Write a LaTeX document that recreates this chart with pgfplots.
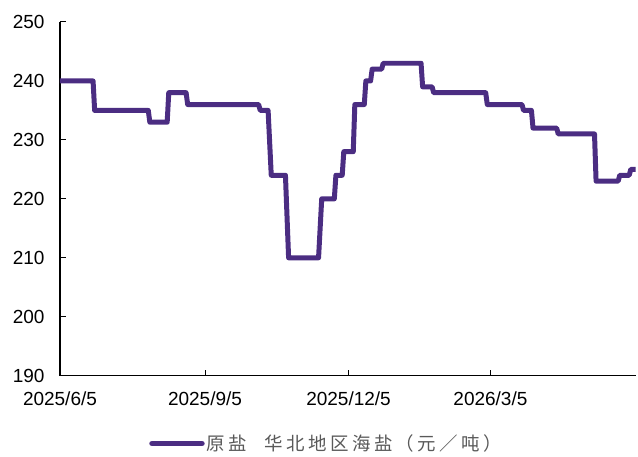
\documentclass[border=0pt]{standalone}
\usepackage{pgfplots}
\pgfplotsset{compat=1.18}
\usepackage{fontspec}
\setmainfont{Liberation Sans}
\newfontfamily\cjk[LetterSpace=18]{Noto Sans CJK SC}
\definecolor{linepurple}{RGB}{75,45,130}
\definecolor{legendgray}{RGB}{89,89,89}
\begin{document}
\begin{tikzpicture}
\path (0,0) rectangle (638bp,457bp);
\begin{axis}[
  at={(60bp,81bp)}, anchor=south west,
  scale only axis, width=576bp, height=354bp,
  xmin=0, xmax=365, ymin=190, ymax=250,
  axis lines=left,
  axis line style={line width=1.3bp, black, -},
  xtick={0,92,183,273},
  xticklabels={2025/6/5,2025/9/5,2025/12/5,2026/3/5},
  ytick={190,200,...,250},
  tick align=inside,
  major tick length=6bp,
  tick style={line width=1bp, black},
  ticklabel style={font=\fontsize{19bp}{21bp}\selectfont, text=black},
  /pgf/number format/assume math mode=true,
  yticklabel style={xshift=-12bp},
  xticklabel style={yshift=-13bp},
  clip=false,
  legend style={at={(0.463,-0.192)}, anchor=center, draw=none, fill=none,
    font=\cjk\fontsize{18.5bp}{20bp}\selectfont, text=legendgray,
    /tikz/every even column/.append style={column sep=0bp}},
  legend cell align=left,
  legend image code/.code={\draw[#1, line width=5.5bp, line cap=round] (0bp,0bp) -- (50bp,0bp);},
]
\addplot[color=linepurple, line width=5bp, line join=round, line cap=butt] coordinates {
(0,240) (21,240) (22,235) (56,235) (57,233) (68,233) (69,238) (80,238) (81,236)
(126,236) (127,235) (132,235) (134,224) (143,224) (145,210) (164,210) (166,220)
(174,220) (175,224) (179,224) (180,228) (186,228) (187,236) (193,236) (194,240)
(197,240) (198,242) (204,242) (205,243) (229,243) (230,239) (236,239) (237,238)
(270,238) (271,236) (293,236) (294,235) (299,235) (300,232) (315,232) (316,231)
(339,231) (340,223) (354,223) (355,224) (361,224) (362,225) (365,225)
};
\addlegendentry{\hspace{0bp}原盐\hspace{18bp}华北地区海盐（元／吨）}
\end{axis}
\end{tikzpicture}
\end{document}
